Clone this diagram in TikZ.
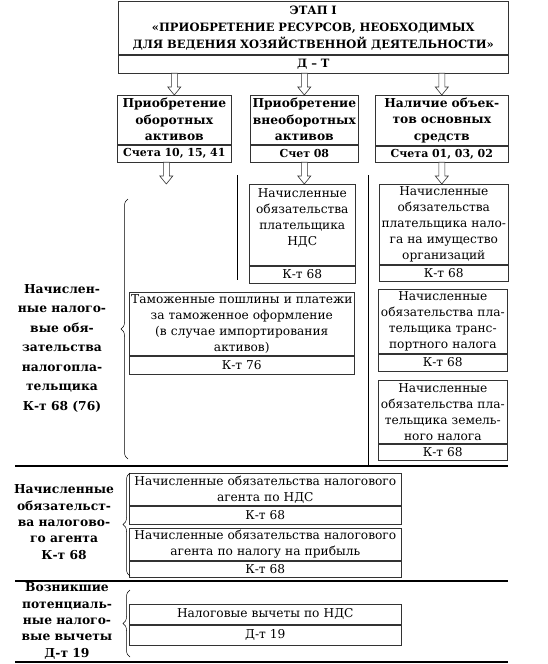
\documentclass[tikz,border=0pt]{standalone}
\usepackage{fontspec}
\setmainfont{DejaVu Serif}
\usetikzlibrary{positioning,calc,decorations.pathreplacing}

\tikzset{
  box/.style={draw=black!80, line width=0.6pt, align=center, inner sep=0pt, anchor=north west,
    font=\fontsize{12.2}{16}\selectfont},
  boxb/.style={box, font=\bfseries\fontsize{12.3}{16.5}\selectfont},
  boxk/.style={box, font=\bfseries\fontsize{11}{16}\selectfont},
  sidetext/.style={align=center, inner sep=0pt, font=\bfseries\fontsize{12.3}{16.3}\selectfont},
  rule/.style={line width=1.4pt},
  hollow/.style={draw=black!80, fill=white, line width=0.6pt},
  bracket/.style={decorate, decoration={brace, amplitude=7pt}, line width=0.5pt}
}

% hollow block arrow from #1 down to #2
\newcommand{\hollowarrow}[2]{%
  \draw[hollow] ($(#1)+(-3,0)$) -- ($(#2)+(-3,-8)$) -- ($(#2)+(-6.5,-8)$) -- (#2)
    -- ($(#2)+(6.5,-8)$) -- ($(#2)+(3,-8)$) -- ($(#1)+(3,0)$) -- cycle;}

\begin{document}
\begin{tikzpicture}[x=1pt,y=-1pt]
    \useasboundingbox (0,0) rectangle (548,664);

    % stage
    \node[boxb, text width=390pt, minimum height=53pt, font=\bfseries\fontsize{11.5}{17}\selectfont] (top) at (118,1)
        {ЭТАП I\\«ПРИОБРЕТЕНИЕ РЕСУРСОВ, НЕОБХОДИМЫХ\\ДЛЯ ВЕДЕНИЯ ХОЗЯЙСТВЕННОЙ ДЕЯТЕЛЬНОСТИ»};
    \node[boxb, text width=390pt, minimum height=18pt, below=0pt of top, font=\bfseries\fontsize{11.5}{17}\selectfont] (topk) {Д – Т};

    % assets
    \node[boxb, text width=114pt, minimum height=49pt] (r1) at (117,95) {Приобретение\\оборотных\\активов};
    \node[boxk, text width=114pt, minimum height=17pt, below=0pt of r1] (r1k) {Счета 10, 15, 41};
    \node[boxb, text width=108pt, minimum height=49pt] (r2) at (250,95) {Приобретение\\внеоборотных\\активов};
    \node[boxk, text width=108pt, minimum height=17pt, below=0pt of r2] (r2k) {Счет 08};
    \node[boxb, text width=133pt, minimum height=50pt] (r3) at (375,95) {Наличие объек-\\тов основных\\средств};
    \node[boxk, text width=133pt, minimum height=16pt, below=0pt of r3] (r3k) {Счета 01, 03, 02};

    % taxpayer
    \node[box, text width=106pt, minimum height=81pt] (nds) at (249,184)
        {Начисленные\\обязательства\\плательщика\\НДС\\\phantom{Н}};
    \node[box, text width=106pt, minimum height=17pt, below=0pt of nds] (ndsk) {К-т 68};
    \node[box, text width=129pt, minimum height=80pt] (prop) at (379,184)
        {Начисленные\\обязательства\\плательщика нало-\\га на имущество\\организаций};
    \node[box, text width=129pt, minimum height=16pt, below=0pt of prop] (propk) {К-т 68};
    \node[box, text width=225pt, minimum height=63pt] (cust) at (129,292)
        {Таможенные пошлины и платежи\\за таможенное оформление\\(в случае импортирования\\активов)};
    \node[box, text width=225pt, minimum height=18pt, below=0pt of cust] (custk) {К-т 76};
    \node[box, text width=129pt, minimum height=64pt] (trans) at (378,289)
        {Начисленные\\обязательства пла-\\тельщика транс-\\портного налога};
    \node[box, text width=129pt, minimum height=17pt, below=0pt of trans] (transk) {К-т 68};
    \node[box, text width=129pt, minimum height=63pt] (land) at (378,380)
        {Начисленные\\обязательства пла-\\тельщика земель-\\ного налога};
    \node[box, text width=129pt, minimum height=16pt, below=0pt of land] (landk) {К-т 68};

    % tax agent
    \node[box, text width=272pt, minimum height=32pt] (ag1) at (129,473)
        {Начисленные обязательства налогового\\агента по НДС};
    \node[box, text width=272pt, minimum height=18pt, below=0pt of ag1] (ag1k) {К-т 68};
    \node[box, text width=272pt, minimum height=32pt] (ag2) at (129,528)
        {Начисленные обязательства налогового\\агента по налогу на прибыль};
    \node[box, text width=272pt, minimum height=16pt, below=0pt of ag2] (ag2k) {К-т 68};

    % deductions
    \node[box, text width=272pt, minimum height=20pt] (ded) at (129,604) {Налоговые вычеты по НДС};
    \node[box, text width=272pt, minimum height=20pt, below=0pt of ded] (dedk) {Д-т 19};

    % side texts
    \node[sidetext, font=\bfseries\fontsize{12.3}{19.5}\selectfont] (side1) at (62,348)
        {Начислен-\\ные налого-\\вые обя-\\зательства\\налогопла-\\тельщика\\К-т 68 (76)};
    \node[sidetext] (side2) at (64,522) {Начисленные\\обязательст-\\ва налогово-\\го агента\\К-т 68};
    \node[sidetext] (side3) at (67,621) {Возникшие\\потенциаль-\\ные налого-\\вые вычеты\\Д-т 19};

    % arrows
    \coordinate (a1) at (topk.south -| r1.north);
    \coordinate (a2) at (topk.south -| r2.north);
    \coordinate (a3) at (topk.south -| r3.north);
    \hollowarrow{a1}{r1.north}
    \hollowarrow{a2}{r2.north}
    \hollowarrow{a3}{r3.north}
    \coordinate (b1) at ([xshift=-8pt]r1k.south);
    \coordinate (e1) at (b1 |- nds.north);
    \coordinate (b2) at (r2k.south);
    \coordinate (e2) at (b2 |- nds.north);
    \coordinate (b3) at (r3k.south);
    \coordinate (e3) at (b3 |- prop.north);
    \hollowarrow{b1}{e1}
    \hollowarrow{b2}{e2}
    \hollowarrow{b3}{e3}

    % separators
    \draw[line width=0.6pt] (237,175) -- (237,280);
    \draw[line width=0.6pt] (368,175) -- (368,466);
    \draw[rule] (15,466) -- (508,466);
    \draw[rule] (15,581) -- (508,581);
    \draw[rule] (15,662) -- (508,662);

    % braces
    \draw[bracket] (128,459) -- (128,199);
    \draw[bracket] (130,576) -- (130,473);
    \draw[bracket] (130,657) -- (130,590);
\end{tikzpicture}
\end{document}
